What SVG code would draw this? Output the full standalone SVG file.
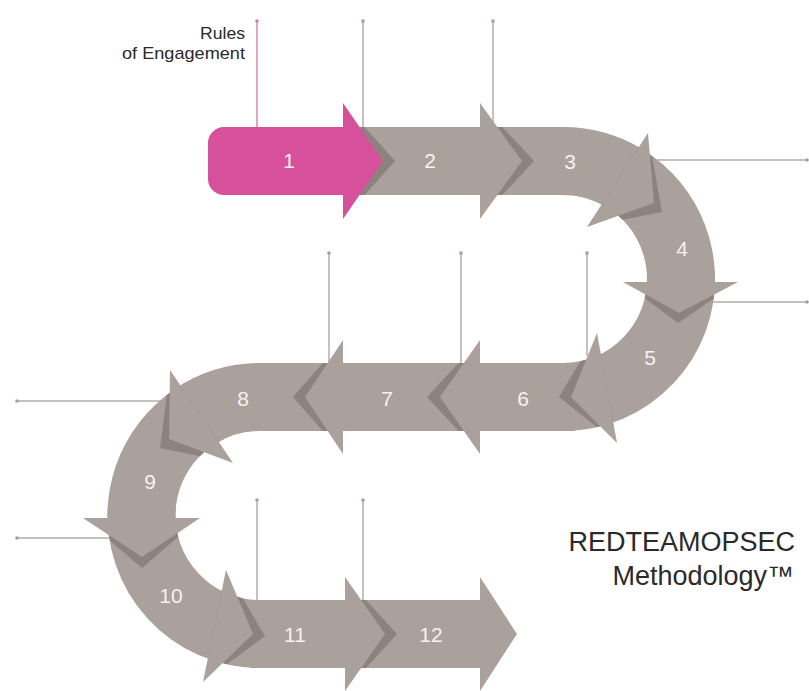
<svg xmlns="http://www.w3.org/2000/svg" width="809" height="691" viewBox="0 0 809 691">
<style>
.body{fill:#aaa09c}
.head{fill:#aaa09c}
.shadow{fill:#8e827e}
.pink{fill:#d6509b}
.num{font-family:"Liberation Sans",Arial,sans-serif;font-size:21px;fill:#f6f3f1;text-anchor:middle}
.ln{stroke:#b5adaa;stroke-width:1.5;fill:none}
.lbl{font-family:"Liberation Sans",Arial,sans-serif;fill:#2a2a2a;text-anchor:end}
</style>
<defs>
<clipPath id="band"><path d="M 200 127 H 563 A 152 152 0 0 1 563 431 H 260 A 84.5 84.5 0 0 0 260 600 H 540 V 668 H 260 A 152.5 152.5 0 0 1 260 363 H 563 A 84 84 0 0 0 563 195 H 200 Z"/></clipPath>
<marker id="dot" viewBox="0 0 4 4" refX="2" refY="2" markerWidth="2.4" markerHeight="2.4" markerUnits="strokeWidth"><circle cx="2" cy="2" r="2" fill="#a89e9b"/></marker>
<marker id="pdot" viewBox="0 0 4 4" refX="2" refY="2" markerWidth="2.4" markerHeight="2.4" markerUnits="strokeWidth"><circle cx="2" cy="2" r="2" fill="#d680b2"/></marker>
</defs>
<rect width="809" height="691" fill="#ffffff"/>

<g id="connectors">
<line class="ln" x1="257" y1="21" x2="257" y2="128" style="stroke:#d987b8" marker-start="url(#pdot)"/>
<line class="ln" x1="363" y1="21" x2="363" y2="128" marker-start="url(#dot)"/>
<line class="ln" x1="493" y1="21" x2="493" y2="128" marker-start="url(#dot)"/>
<line class="ln" x1="807" y1="160" x2="650" y2="160" marker-start="url(#dot)"/>
<line class="ln" x1="807" y1="302" x2="705" y2="302" marker-start="url(#dot)"/>
<line class="ln" x1="329" y1="253" x2="329" y2="364" marker-start="url(#dot)"/>
<line class="ln" x1="461" y1="253" x2="461" y2="364" marker-start="url(#dot)"/>
<line class="ln" x1="587" y1="253" x2="587" y2="356" marker-start="url(#dot)"/>
<line class="ln" x1="17" y1="401" x2="170" y2="401" marker-start="url(#dot)"/>
<line class="ln" x1="17" y1="538" x2="115" y2="538" marker-start="url(#dot)"/>
<line class="ln" x1="257" y1="500" x2="257" y2="601" marker-start="url(#dot)"/>
<line class="ln" x1="363" y1="500" x2="363" y2="601" marker-start="url(#dot)"/>
</g>

<g id="node12">
<rect class="body" x="341" y="600" width="141" height="68"/>
<polygon class="head" points="480,577 517,634 480,691"/>
<text class="num" x="431" y="641.5">12</text>
</g>
<g id="node11">
<rect class="body" x="250" y="600" width="99" height="68"/>
<polygon class="shadow" points="345,577 397,634 345,691" clip-path="url(#band)"/>
<polygon class="head" points="345,577 385,634 345,691"/>
<text class="num" x="295" y="641.5">11</text>
</g>
<g id="node10">
<path class="body" d="M 108.1 502.2 A 152.5 152.5 0 0 0 260 668 L 260 600 A 84.5 84.5 0 0 1 175.8 508.1 Z"/>
<polygon class="shadow" points="226,570 265,636 203,682" clip-path="url(#band)"/>
<polygon class="head" points="226,570 253,634 203,682"/>
<text class="num" x="171" y="602.5">10</text>
</g>
<g id="node9">
<path class="body" d="M 195.6 377.3 A 152.5 152.5 0 0 0 109.0 536.7 L 176.3 527.3 A 84.5 84.5 0 0 1 224.3 438.9 Z"/>
<polygon class="shadow" points="83,518 142,568 200,518" clip-path="url(#band)"/>
<polygon class="head" points="83,518 142,557 200,518"/>
<text class="num" x="150" y="489">9</text>
</g>
<g id="node8">
<path class="body" d="M 347 363 H 260 A 152.5 152.5 0 0 0 174.7 389.1 L 212.7 445.4 A 84.5 84.5 0 0 1 260 431 H 347 Z"/>
<polygon class="shadow" points="170,370 160,448 233,463" clip-path="url(#band)"/>
<polygon class="head" points="170,370 169,439 233,463"/>
<text class="num" x="243" y="406">8</text>
</g>
<g id="node7">
<rect class="body" x="339" y="363" width="145" height="68"/>
<polygon class="shadow" points="343,340 293,397 343,454" clip-path="url(#band)"/>
<polygon class="head" points="343,340 305,397 343,454"/>
<text class="num" x="387" y="406">7</text>
</g>
<g id="node6">
<rect class="body" x="476" y="363" width="99" height="68"/>
<polygon class="shadow" points="480,340 427,397 480,454" clip-path="url(#band)"/>
<polygon class="head" points="480,340 440,397 480,454"/>
<text class="num" x="523" y="406">6</text>
</g>
<g id="node5">
<path class="body" d="M 714.8 271.0 A 152 152 0 0 1 563 431 L 563 363 A 84 84 0 0 0 646.9 274.6 Z"/>
<polygon class="shadow" points="597,333 559,397 617,443" clip-path="url(#band)"/>
<polygon class="head" points="597,333 571,397 617,443"/>
<text class="num" x="650" y="364.5">5</text>
</g>
<g id="node4">
<path class="body" d="M 620.0 138.1 A 152 152 0 0 1 713.5 300.2 L 646.2 290.7 A 84 84 0 0 0 594.5 201.1 Z"/>
<polygon class="shadow" points="623,282 678,323 738,282" clip-path="url(#band)"/>
<polygon class="head" points="623,282 679,313 738,282"/>
<text class="num" x="682" y="256">4</text>
</g>
<g id="node3">
<path class="body" d="M 476 127 H 563 A 152 152 0 0 1 643.5 150.1 L 607.5 207.8 A 84 84 0 0 0 563 195 H 476 Z"/>
<polygon class="shadow" points="648,133 662,212 587,227" clip-path="url(#band)"/>
<polygon class="head" points="648,133 654,203 587,227"/>
<text class="num" x="570" y="168.5">3</text>
</g>
<g id="node2">
<rect class="body" x="340" y="127" width="144" height="68"/>
<polygon class="shadow" points="480,103 534,161 480,219" clip-path="url(#band)"/>
<polygon class="head" points="480,103 522,161 480,219"/>
<text class="num" x="430" y="168">2</text>
</g>
<g id="node1">
<polygon class="shadow" points="343,103 395,161 343,219" clip-path="url(#band)"/>
<path class="pink" d="M 224 127 H 343 V 103 L 383 161 L 343 219 V 195 H 224 A 16 16 0 0 1 208 179 V 143 A 16 16 0 0 1 224 127 Z"/>
<text class="num" x="289" y="168">1</text>
</g>

<g id="label-rules">
<text class="lbl" x="245" y="39" font-size="17" textLength="45" lengthAdjust="spacingAndGlyphs">Rules</text>
<text class="lbl" x="245" y="59" font-size="17" textLength="123" lengthAdjust="spacingAndGlyphs">of Engagement</text>
</g>
<g id="title">
<text class="lbl" x="795" y="551" font-size="27">REDTEAMOPSEC</text>
<text class="lbl" x="794" y="585" font-size="27">Methodology™</text>
</g>
</svg>
